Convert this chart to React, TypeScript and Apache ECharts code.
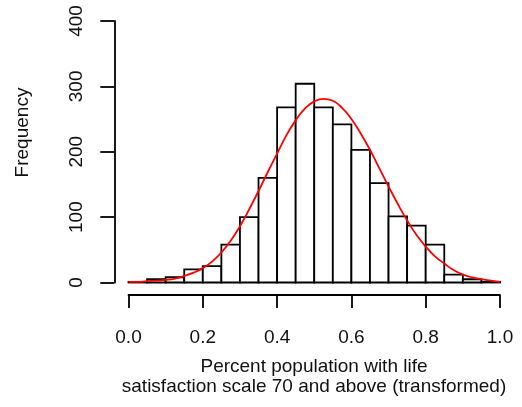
import React, { useEffect, useRef } from "react";
import * as echarts from "echarts";

// Histogram bins (width 0.05) and counts
const binStarts = [0.0, 0.05, 0.1, 0.15, 0.2, 0.25, 0.3, 0.35, 0.4, 0.45, 0.5, 0.55, 0.6, 0.65, 0.7, 0.75, 0.8, 0.85, 0.9, 0.95];
const binWidth = 0.05;
const counts = [1, 5, 8, 20, 25, 58, 100, 160, 268, 304, 268, 242, 203, 152, 101, 87, 58, 12, 5, 1];

// Red fitted curve
const curveX = [
  0.0, 0.025, 0.05, 0.075, 0.1, 0.125, 0.15, 0.175, 0.2, 0.225, 0.25, 0.275, 0.3, 0.325, 0.35, 0.375, 0.4, 0.425, 0.45, 0.475,
  0.5, 0.525, 0.55, 0.575, 0.6, 0.625, 0.65, 0.675, 0.7, 0.725, 0.75, 0.775, 0.8, 0.825, 0.85, 0.875, 0.9, 0.925, 0.95, 0.975, 1.0,
];
const curveY = [
  1, 1, 2, 3, 4, 6, 10, 15, 22, 32, 46, 64, 86, 112, 140, 169, 197, 225, 248, 266,
  277, 281, 278, 267, 250, 228, 203, 175, 147, 120, 95, 73, 55, 40, 29, 19, 12, 8, 5, 3, 1,
];

const xTitle = "Percent population with life\nsatisfaction scale 70 and above (transformed)";
const yTitle = "Frequency";

const FONT = "'Liberation Sans', Arial, Helvetica, sans-serif";

export default function App() {
  const ref = useRef<HTMLDivElement>(null);
  useEffect(() => {
    if (!ref.current) return;
    const chart = echarts.init(ref.current, null, { renderer: "svg" });
    const histData = binStarts.map((s, i) => [s, s + binWidth, counts[i]]);
    const curveData = curveX.map((x, i) => [x, curveY[i]]);
    chart.setOption({
      animation: false,
      grid: { left: 128.5, right: 22, top: 21, bottom: 124.5 },
      xAxis: [
        {
          type: "value",
          min: 0,
          max: 1,
          interval: 0.2,
          offset: 12.5,
          axisLine: { show: true, onZero: false, lineStyle: { color: "#000", width: 1.8 } },
          axisTick: { show: true, length: 13, lineStyle: { color: "#000", width: 1.8 } },
          axisLabel: {
            margin: 32,
            fontSize: 19,
            color: "#111",
            fontFamily: FONT,
            formatter: (v: number) => v.toFixed(1),
          },
          splitLine: { show: false },
        },
      ],
      yAxis: {
        type: "value",
        min: 0,
        max: 400,
        interval: 100,
        offset: 14.2,
        axisLine: { show: true, onZero: false, lineStyle: { color: "#000", width: 1.8 } },
        axisTick: { show: true, length: 14, lineStyle: { color: "#000", width: 1.8 } },
        axisLabel: {
          margin: 29,
          rotate: 90,
          fontSize: 19,
          color: "#111",
          fontFamily: FONT,
        },
        splitLine: { show: false },
      },
      graphic: [
        {
          type: "text",
          x: 314,
          y: 355,
          style: {
            text: xTitle,
            fontSize: 19,
            lineHeight: 20,
            fontFamily: FONT,
            fill: "#111",
            align: "center",
            verticalAlign: "top",
          },
        },
        {
          type: "text",
          x: 21.5,
          y: 132.5,
          rotation: Math.PI / 2,
          style: {
            text: yTitle,
            fontSize: 19,
            fontFamily: FONT,
            fill: "#111",
            align: "center",
            verticalAlign: "middle",
          },
        },
      ],
      series: [
        {
          type: "custom",
          data: histData,
          renderItem: (params: any, api: any) => {
            const p0 = api.coord([api.value(0), api.value(2)]);
            const p1 = api.coord([api.value(1), 0]);
            return {
              type: "rect",
              shape: { x: p0[0], y: p0[1], width: p1[0] - p0[0], height: p1[1] - p0[1] },
              style: { fill: "#ffffff", stroke: "#000", lineWidth: 1.8 },
            };
          },
          z: 2,
        },
        {
          type: "line",
          data: curveData,
          smooth: true,
          showSymbol: false,
          symbol: "none",
          lineStyle: { color: "#ff0000", width: 1.8 },
          z: 3,
        },
      ],
    });
    return () => chart.dispose();
  }, []);
  return (
    <div
      ref={ref}
      style={{ position: "fixed", left: 0, top: 0, width: 522, height: 407 }}
    />
  );
}
